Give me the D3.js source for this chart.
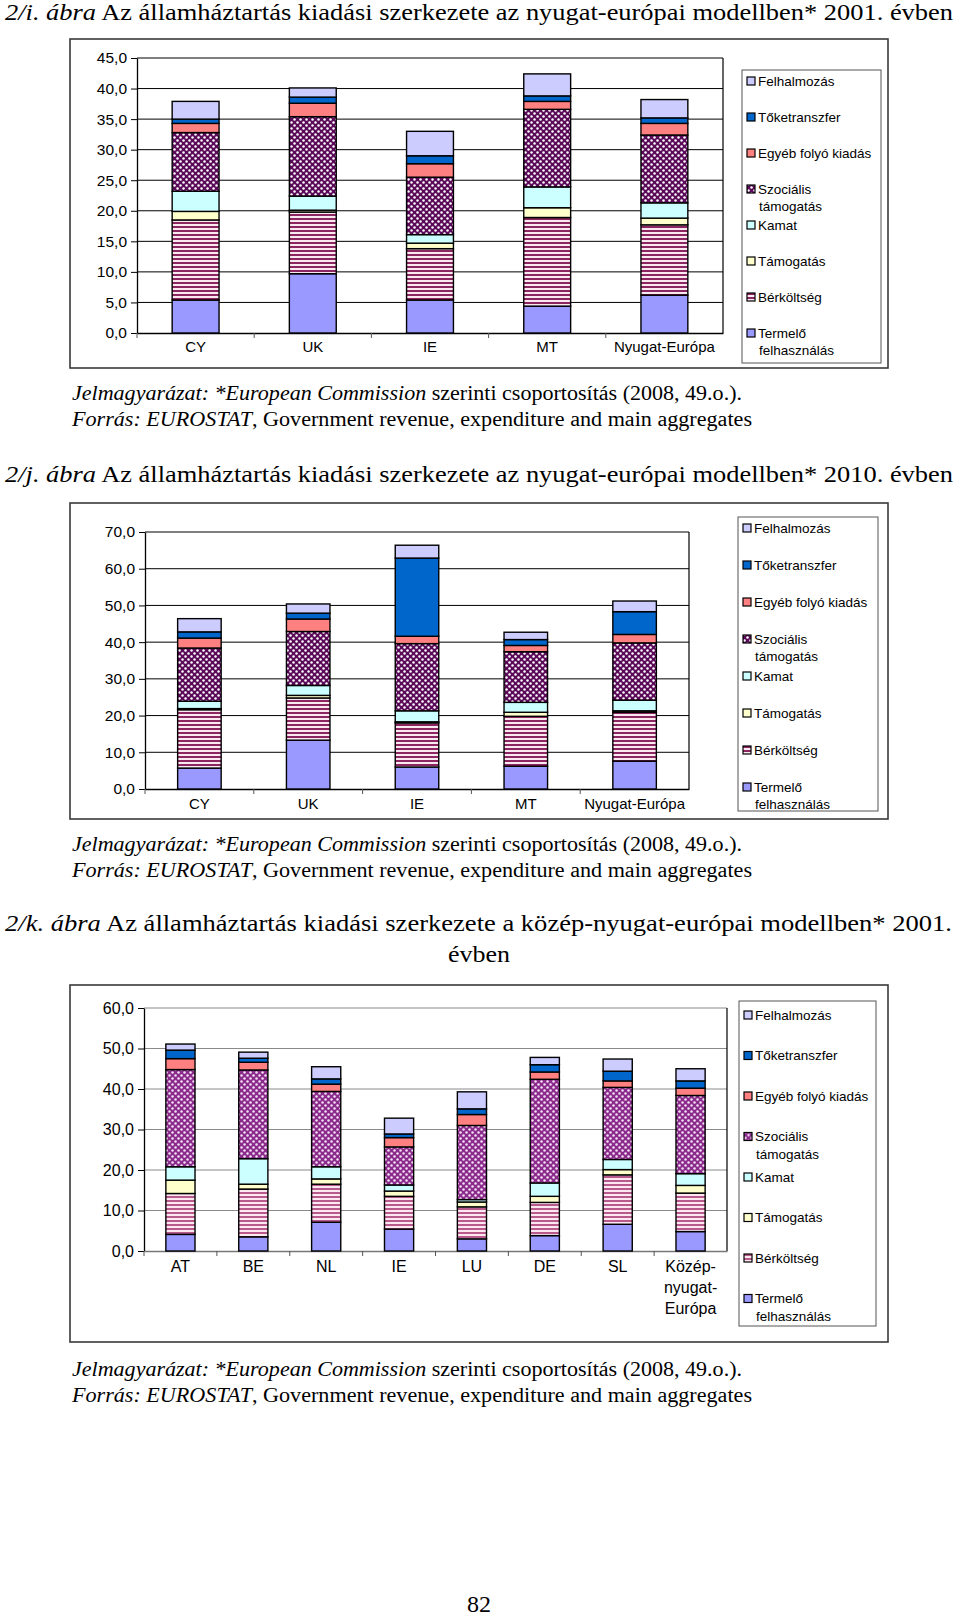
<!DOCTYPE html>
<html>
<head>
<meta charset="utf-8">
<script src="https://cdn.jsdelivr.net/npm/d3@7"></script>
<style>
  body { margin: 0; background: #fff; }
  svg { display: block; }
  .serif { font-family: 'Liberation Serif', 'Times New Roman', serif; fill: #000; }
  .sans { font-family: 'Liberation Sans', Arial, sans-serif; fill: #000; }
</style>
</head>
<body>
<svg id="page" width="960" height="1618"></svg>
<script>
// series, bottom of the stack first
const seriesNames = ['Termelő felhasználás', 'Bérköltség', 'Támogatás', 'Kamat',
  'Szociális támogatás', 'Egyéb folyó kiadás', 'Tőketranszfer', 'Felhalmozás']

// legend reads top to bottom
const legendLabels = [['Felhalmozás'], ['Tőketranszfer'], ['Egyéb folyó kiadás'],
  ['Szociális', 'támogatás'], ['Kamat'], ['Támogatás'], ['Bérköltség'], ['Termelő', 'felhasználás']]

// 2/i. 2001, nyugat-európai modell
const categories2001 = ['CY', 'UK', 'IE', 'MT', 'Nyugat-Európa']
const values2001 = [
  [5.4, 9.7, 5.4, 4.4, 6.2],      // Termelő felhasználás
  [13.1, 10.1, 8.4, 14.5, 11.5],  // Bérköltség
  [1.4, 0.3, 0.9, 1.6, 1.1],      // Támogatás
  [3.3, 2.3, 1.4, 3.4, 2.5],      // Kamat
  [9.6, 13.0, 9.4, 12.7, 11.1],   // Szociális támogatás
  [1.5, 2.2, 2.2, 1.3, 1.9],      // Egyéb folyó kiadás
  [0.7, 1.0, 1.3, 0.9, 0.9],      // Tőketranszfer
  [2.9, 1.5, 4.0, 3.6, 3.0]       // Felhalmozás
]
const ticks2001 = [0, 5, 10, 15, 20, 25, 30, 35, 40, 45]

// 2/j. 2010, nyugat-európai modell
const categories2010 = ['CY', 'UK', 'IE', 'MT', 'Nyugat-Európa']
const values2010 = [
  [5.7, 13.3, 6.0, 6.2, 7.6],
  [15.9, 11.5, 12.0, 13.6, 13.3],
  [0.3, 0.7, 0.3, 1.1, 0.4],
  [2.0, 2.7, 3.0, 2.7, 2.9],
  [14.5, 14.7, 18.3, 13.8, 15.6],
  [2.7, 3.4, 2.0, 1.7, 2.3],
  [1.7, 1.6, 21.3, 1.6, 6.2],
  [3.6, 2.5, 3.5, 2.0, 2.9]
]
const ticks2010 = [0, 10, 20, 30, 40, 50, 60, 70]

// 2/k. 2001, közép-nyugat-európai modell
const categoriesKozep = ['AT', 'BE', 'NL', 'IE', 'LU', 'DE', 'SL', 'Közép-nyugat-Európa']
const valuesKozep = [
  [4.1, 3.5, 7.1, 5.4, 3.0, 3.8, 6.6, 4.8],
  [10.1, 11.8, 9.4, 8.1, 7.9, 8.2, 12.2, 9.5],
  [3.3, 1.2, 1.3, 1.3, 1.2, 1.5, 1.3, 1.9],
  [3.3, 6.3, 3.0, 1.5, 0.6, 3.3, 2.5, 2.9],
  [24.0, 21.9, 18.6, 9.4, 18.3, 25.6, 17.8, 19.3],
  [2.7, 1.9, 1.8, 2.3, 2.7, 1.8, 1.6, 1.8],
  [2.1, 1.0, 1.3, 0.9, 1.4, 1.8, 2.4, 1.8],
  [1.5, 1.5, 3.0, 3.9, 4.2, 1.8, 3.0, 3.0]
]
const ticksKozep = [0, 10, 20, 30, 40, 50, 60]

const svg = d3.select('#page')
const defs = svg.append('defs')

// hatch patterns (excel style fills)
function makePatterns (id, stripe, stripeBg, dot, dotBg) {
  const st = defs.append('pattern').attr('id', 'stripe' + id)
    .attr('patternUnits', 'userSpaceOnUse').attr('width', 4).attr('height', 4)
  st.append('rect').attr('width', 4).attr('height', 4).attr('fill', stripeBg)
  st.append('rect').attr('width', 4).attr('height', 2).attr('fill', stripe)

  const dt = defs.append('pattern').attr('id', 'dots' + id)
    .attr('patternUnits', 'userSpaceOnUse').attr('width', 6).attr('height', 6)
  dt.append('rect').attr('width', 6).attr('height', 6).attr('fill', dotBg)
  dt.append('circle').attr('cx', 1.5).attr('cy', 1.5).attr('r', 1.25).attr('fill', dot)
  dt.append('circle').attr('cx', 4.5).attr('cy', 4.5).attr('r', 1.25).attr('fill', dot)
}
makePatterns('A', '#8c2660', '#fbe9f2', '#ffffff', '#5a0858')
makePatterns('B', '#b85a8c', '#fde8f2', '#f6e0f6', '#8a2a8a')

function fills (id) {
  return ['#9999ff', `url(#stripe${id})`, '#ffffcc', '#ccffff',
    `url(#dots${id})`, '#ff8080', '#0066cc', '#ccccff']
}

const fmt = d => d3.format('.1f')(d).replace('.', ',')

function drawChart (cfg) {
  const { box, plot, legend, categories, values, ticks } = cfg
  const fill = fills(cfg.pat)

  // outer frame
  svg.append('rect')
    .attr('x', box.x).attr('y', box.y).attr('width', box.w).attr('height', box.h)
    .attr('fill', '#fff').attr('stroke', '#3a3a3a').attr('stroke-width', 1.6)

  const g = svg.append('g').attr('transform', `translate(${plot.x}, ${plot.y})`)

  const table = categories.map((c, i) => {
    const row = { key: c }
    seriesNames.forEach((s, j) => { row[s] = values[j][i] })
    return row
  })
  const stacked = d3.stack().keys(seriesNames)(table)

  const y = d3.scaleLinear()
    .domain([0, d3.max(ticks)])
    .range([plot.h, 0])
  const x = d3.scaleBand()
    .domain(categories)
    .range([0, plot.w])
    .paddingInner(0.6)
    .paddingOuter(0.3)

  // grid
  g.selectAll('.grid')
    .data(ticks.filter(t => t > 0))
    .enter().append('line')
      .attr('x1', 0).attr('x2', plot.w)
      .attr('y1', d => y(d)).attr('y2', d => y(d))
      .attr('stroke', cfg.grid).attr('stroke-width', 1)
  g.append('line')
    .attr('x1', plot.w).attr('x2', plot.w).attr('y1', 0).attr('y2', plot.h)
    .attr('stroke', '#000').attr('stroke-width', 1.2)

  // y axis
  const yAxis = d3.axisLeft(y).tickValues(ticks).tickFormat(fmt).tickSize(6).tickSizeOuter(0)
  const ya = g.append('g').call(yAxis)
  ya.select('.domain').attr('stroke', '#000').attr('stroke-width', 1.3)
  ya.selectAll('.tick line').attr('stroke', '#000')
  ya.selectAll('text')
    .attr('class', 'sans')
    .attr('x', -10)
    .style('font-size', cfg.yFont + 'px')
    .attr('font-family', null)

  // x axis
  const step = x.step()
  const xAxis = d3.axisBottom(x).tickSize(0).tickSizeOuter(0).tickPadding(cfg.labelPad)
  const xa = g.append('g').attr('transform', `translate(0, ${plot.h})`).call(xAxis)
  xa.select('.domain').attr('stroke', cfg.grid === '#000' ? '#000' : '#777').attr('stroke-width', 1.3)
  xa.selectAll('text')
    .attr('class', 'sans')
    .attr('font-family', null)
    .style('font-size', cfg.xFont + 'px')
    .each(function (d) {
      if (!cfg.wrap || d.length < 12) return
      const t = d3.select(this)
      const parts = d.split(/(?<=-)/)
      t.text(null)
      parts.forEach((p, k) => {
        t.append('tspan').attr('x', 0).attr('dy', k === 0 ? '0.71em' : '1.3em').text(p)
      })
      t.attr('dy', null)
    })
  // boundary ticks between categories
  const bounds = [0].concat(categories.slice(1).map(c => x(c) - step * 0.3))
  xa.selectAll('.sep')
    .data(bounds)
    .enter().append('line')
      .attr('x1', d => d).attr('x2', d => d)
      .attr('y1', 0).attr('y2', 5)
      .attr('stroke', '#555').attr('stroke-width', 1)

  // bars
  g.selectAll('.layer')
    .data(stacked)
    .enter().append('g')
      .attr('fill', (d, i) => fill[i])
    .selectAll('rect')
    .data(d => d)
    .enter().append('rect')
      .attr('x', d => x(d.data.key))
      .attr('y', d => y(d[1]))
      .attr('width', x.bandwidth())
      .attr('height', d => y(d[0]) - y(d[1]))
      .attr('stroke', '#000')
      .attr('stroke-width', 1.4)

  // legend
  svg.append('rect')
    .attr('x', legend.x).attr('y', legend.y).attr('width', legend.w).attr('height', legend.h)
    .attr('fill', '#fff').attr('stroke', '#555').attr('stroke-width', 1)

  const item = svg.selectAll(null)
    .data(legendLabels)
    .enter().append('g')
      .attr('transform', (d, i) => `translate(${legend.x + 5}, ${legend.first + i * legend.step})`)
  item.append('rect')
    .attr('x', 0).attr('y', -4).attr('width', 8).attr('height', 8)
    .attr('fill', (d, i) => fill[seriesNames.length - 1 - i])
    .attr('stroke', '#000').attr('stroke-width', 1.2)
  item.append('text')
    .attr('class', 'sans')
    .style('font-size', legend.font + 'px')
    .selectAll('tspan')
    .data(d => d)
    .enter().append('tspan')
      .attr('x', (d, k) => k === 0 ? 11 : 12)
      .attr('y', (d, k) => k * legend.line)
      .attr('dy', '0.35em')
      .text(d => d)
}

// page text; the scanned serif runs wider than Liberation Serif, so stretch to fit
function serifText (x, yPos, parts, size, width, anchor) {
  const t = svg.append('text')
    .attr('class', 'serif')
    .attr('x', x).attr('y', yPos)
    .style('font-size', size + 'px')
    .attr('text-anchor', anchor || 'start')
  if (width) t.attr('textLength', width).attr('lengthAdjust', 'spacingAndGlyphs')
  parts.forEach(p => {
    t.append('tspan').style('font-style', p[1] ? 'italic' : 'normal').text(p[0])
  })
}

const jelmag = [['Jelmagyarázat: *European Commission', true], [' szerinti csoportosítás (2008, 49.o.).', false]]
const forras = [['Forrás: EUROSTAT', true], [', Government revenue, expenditure and main aggregates', false]]

// 2/i
serifText(5, 20, [['2/i. ábra', true], [' Az államháztartás kiadási szerkezete az nyugat-európai modellben* 2001. évben', false]], 24, 948)
drawChart({
  box: { x: 70, y: 39, w: 818, h: 329 },
  plot: { x: 137, y: 58, w: 586, h: 275 },
  legend: { x: 742, y: 70, w: 139, h: 293, first: 81, step: 36, line: 17, font: 13.5 },
  categories: categories2001, values: values2001, ticks: ticks2001,
  pat: 'A', grid: '#000', yFont: 15.5, xFont: 15, labelPad: 8, wrap: false
})
serifText(72, 400, jelmag, 20.5, 670)
serifText(72, 426, forras, 20.5, 680)

// 2/j
serifText(5, 482, [['2/j. ábra', true], [' Az államháztartás kiadási szerkezete az nyugat-európai modellben* 2010. évben', false]], 24, 948)
drawChart({
  box: { x: 70, y: 503, w: 818, h: 316 },
  plot: { x: 145, y: 532, w: 544, h: 257 },
  legend: { x: 738, y: 517, w: 140, h: 294, first: 528, step: 37, line: 17, font: 13.5 },
  categories: categories2010, values: values2010, ticks: ticks2010,
  pat: 'A', grid: '#000', yFont: 15.5, xFont: 15, labelPad: 9, wrap: false
})
serifText(72, 851, jelmag, 20.5, 670)
serifText(72, 877, forras, 20.5, 680)

// 2/k
serifText(5, 931, [['2/k. ábra', true], [' Az államháztartás kiadási szerkezete a közép-nyugat-európai modellben* 2001.', false]], 24, 947)
serifText(479, 962, [['évben', false]], 24, 62, 'middle')
drawChart({
  box: { x: 70, y: 985, w: 818, h: 357 },
  plot: { x: 144, y: 1008, w: 583, h: 243 },
  legend: { x: 739, y: 1001, w: 137, h: 325, first: 1015, step: 40.5, line: 18, font: 13.5 },
  categories: categoriesKozep, values: valuesKozep, ticks: ticksKozep,
  pat: 'B', grid: '#8a8a8a', yFont: 16, xFont: 16, labelPad: 10, wrap: true
})
serifText(72, 1376, jelmag, 20.5, 670)
serifText(72, 1402, forras, 20.5, 680)

serifText(479, 1612, [['82', false]], 24, null, 'middle')
</script>
</body>
</html>
